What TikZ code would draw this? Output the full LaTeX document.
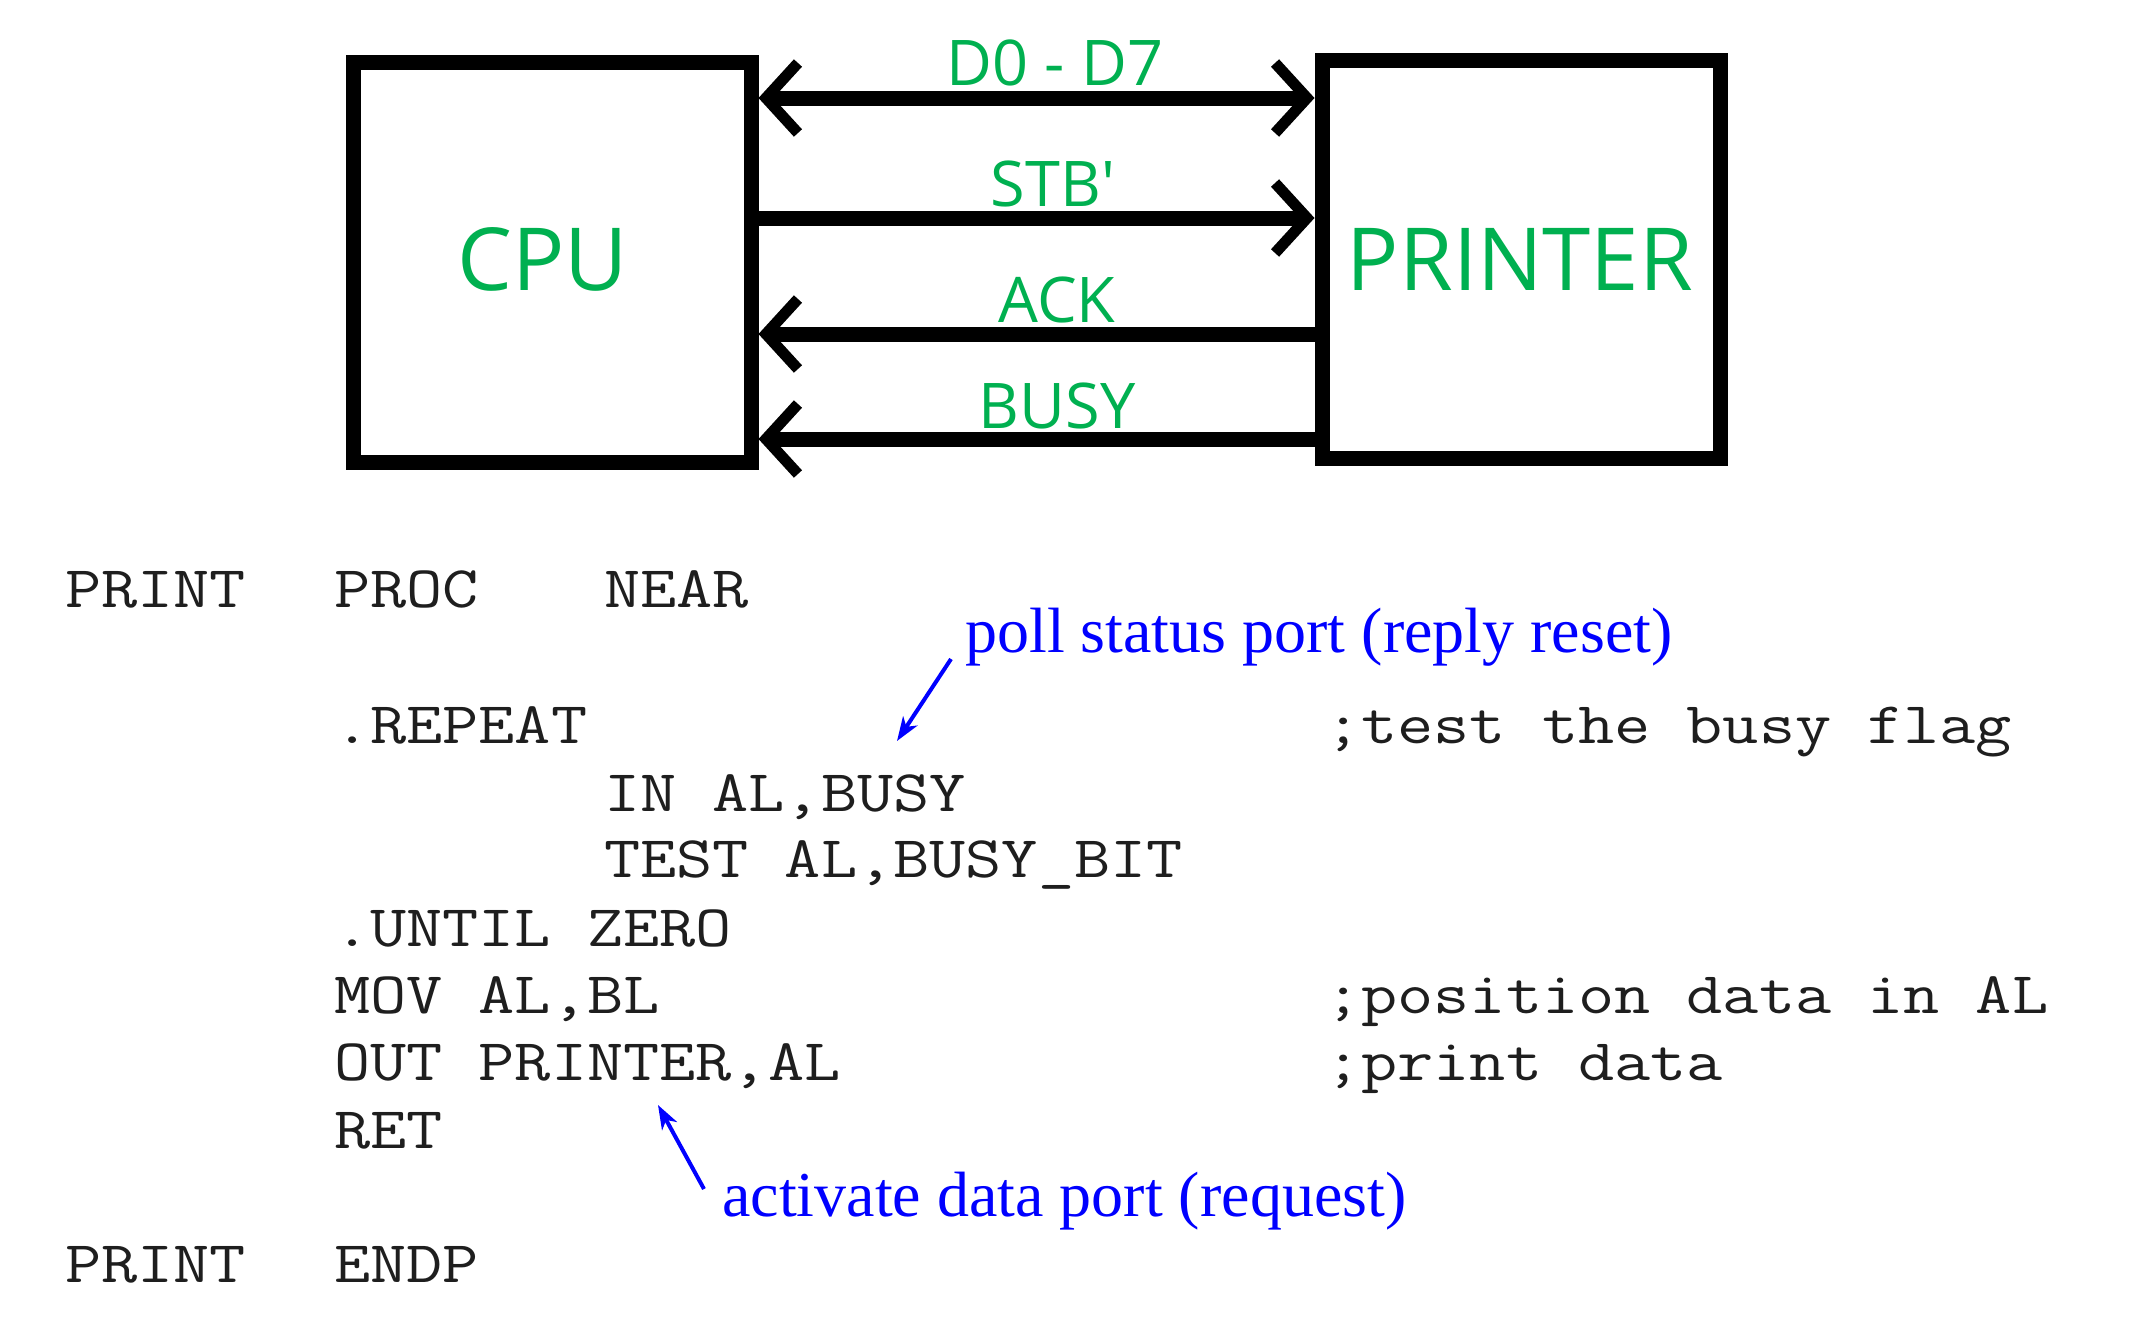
\documentclass[tikz,border=0pt]{standalone}
\usepackage{fontspec}
\setmainfont{Liberation Serif}
\newfontfamily\lblfont{Open Sans}
\newfontfamily\codefont{Latin Modern Mono}[FakeStretch=1.19]
\usetikzlibrary{arrows.meta}
\definecolor{lblgreen}{RGB}{0,176,80}
\definecolor{codegray}{RGB}{30,30,30}
\definecolor{annblue}{RGB}{0,0,255}
\tikzset{
  unitbox/.style={draw=black, line width=15pt, minimum width=398pt, minimum height=400pt, inner sep=0pt},
  boxlabel/.style={inner sep=0pt, font=\lblfont\fontsize{87}{87}\selectfont, text=lblgreen},
  sigline/.style={line width=15pt, >={Straight Barb[length=32pt,width=70pt,line width=11pt]}},
  siglabel/.style={anchor=base, inner sep=0pt, font=\lblfont\fontsize{63}{63}\selectfont, text=lblgreen},
  codetext/.style={anchor=base west, inner sep=0pt, font=\codefont\fontsize{59}{59}\selectfont, text=codegray},
  anntext/.style={anchor=base west, inner sep=0pt, font=\fontsize{64}{64}\selectfont, text=annblue},
  annarrow/.style={draw=annblue, line width=4pt, -{Stealth[length=24pt,width=17pt,inset=7pt]}}
}
\begin{document}
\begin{tikzpicture}[x=1pt,y=-1pt]
\useasboundingbox[fill=white] (0,0) rectangle (2130,1323);
% boxes
\node[unitbox] (cpu) at (552,262) {};
\node[unitbox, minimum height=398pt] (prn) at (1521,259) {};
\node[boxlabel] (cpulbl) at (543,259) {CPU};
\node[boxlabel] (prnlbl) at (1520,259) {PRINTER};
% signal rows
\coordinate (ya) at (0,98);
\coordinate (yb) at (0,218);
\coordinate (yc) at (0,334);
\coordinate (yd) at (0,439);
\draw[sigline,<->] (cpu.east |- ya) -- (prn.west |- ya);
\draw[sigline,->] (cpu.east |- yb) -- (prn.west |- yb);
\draw[sigline,->] (prn.west |- yc) -- (cpu.east |- yc);
\draw[sigline,->] (prn.west |- yd) -- (cpu.east |- yd);
\node[siglabel] (lda) at (1055,85) {D0 - D7};
\node[siglabel] (ldb) at (1053,206) {STB'};
\node[siglabel] (ldc) at (1057,322) {ACK};
\node[siglabel] (ldd) at (1057,428) {BUSY};
% code
\node[codetext] (c1a) at (65,607) {PRINT};
\node[codetext] (c1b) at (334,607) {PROC};
\node[codetext] (c1c) at (604,607) {NEAR};
\node[codetext] (c2) at (334,743) {.REPEAT};
\node[codetext] (c2c) at (1325,743) {;test the busy flag};
\node[codetext] (c3) at (604,811) {IN AL,BUSY};
\node[codetext] (c4) at (604,877) {TEST AL,BUSY\_BIT};
\node[codetext] (c5) at (334,946) {.UNTIL ZERO};
\node[codetext] (c6) at (334,1013) {MOV AL,BL};
\node[codetext] (c6c) at (1325,1013) {;position data in AL};
\node[codetext] (c7) at (334,1080) {OUT PRINTER,AL};
\node[codetext] (c7c) at (1325,1080) {;print data};
\node[codetext] (c8) at (334,1148) {RET};
\node[codetext] (c9a) at (65,1282) {PRINT};
\node[codetext] (c9b) at (334,1282) {ENDP};
% annotations
\node[anntext] (ann1) at (965,652) {poll status port (reply reset)};
\node[anntext] (ann2) at (722,1216) {activate data port (request)};
\coordinate (a1s) at (951,659);
\coordinate (a1t) at (897,741);
\coordinate (a2s) at (704,1189);
\coordinate (a2t) at (658,1105);
\draw[annarrow] (a1s) -- (a1t);
\draw[annarrow] (a2s) -- (a2t);
\end{tikzpicture}
\end{document}
